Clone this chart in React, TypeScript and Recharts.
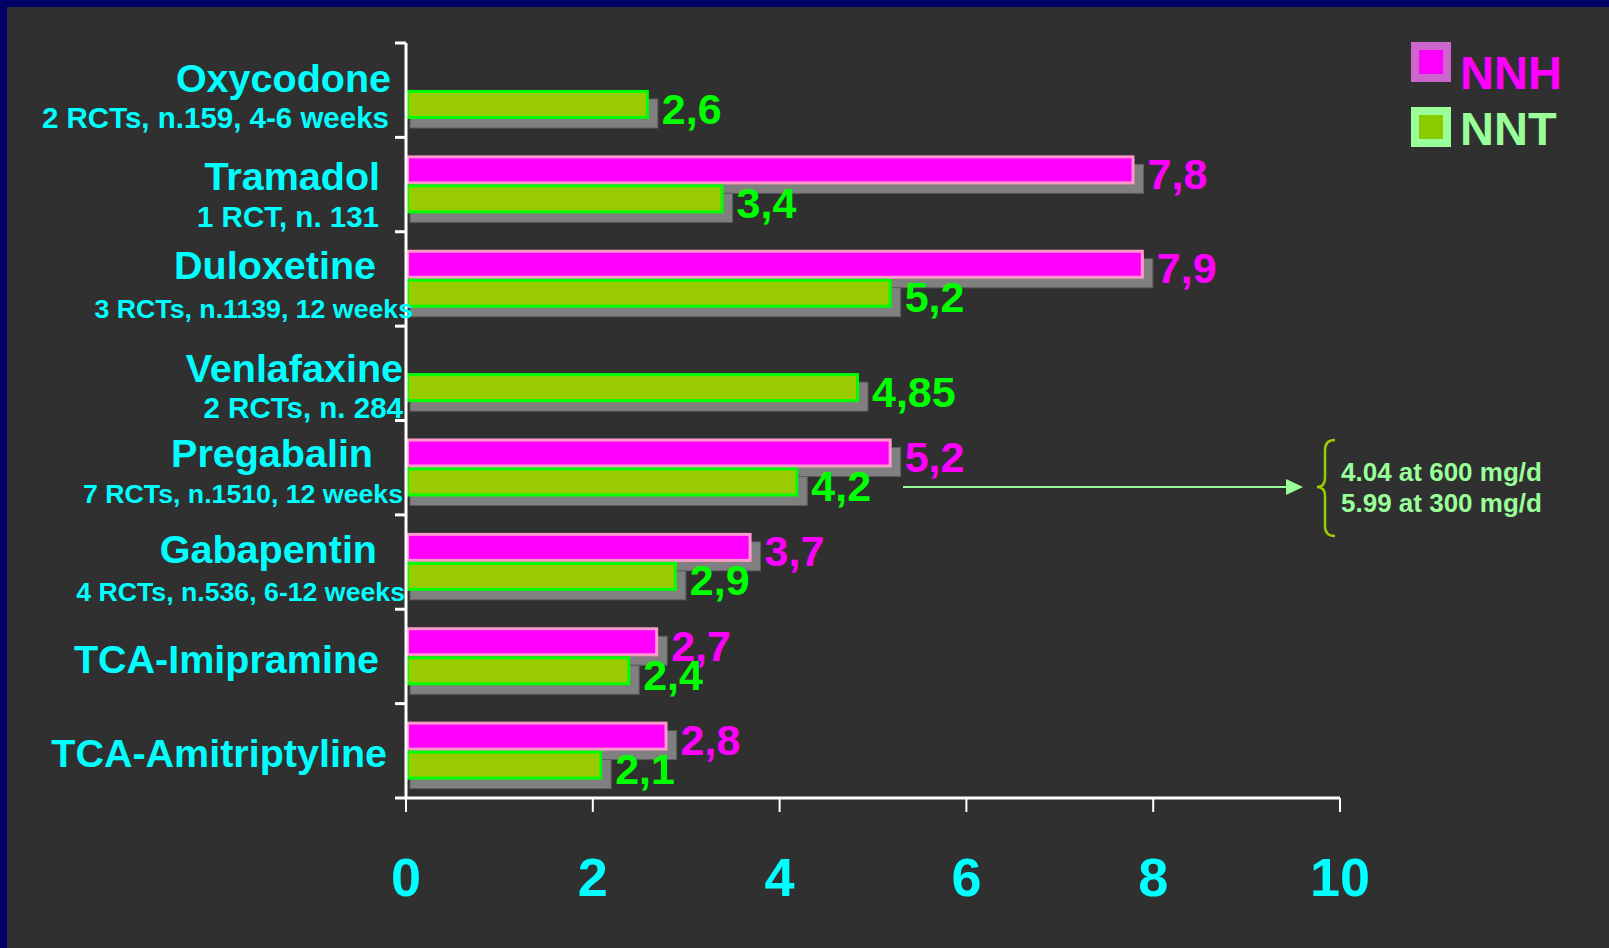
import React from 'react';
import { BarChart, Bar, XAxis, YAxis, Legend, LabelList } from 'recharts';

const drugs = ['Oxycodone', 'Tramadol', 'Duloxetine', 'Venlafaxine', 'Pregabalin', 'Gabapentin', 'TCA-Imipramine', 'TCA-Amitriptyline'];
const trials = ['2 RCTs, n.159, 4-6 weeks', '1 RCT, n. 131', '3 RCTs, n.1139, 12 weeks', '2 RCTs, n. 284', '7 RCTs, n.1510, 12 weeks', '4 RCTs, n.536, 6-12 weeks', '', ''];
const nnh = [null, 7.8, 7.9, null, 5.2, 3.7, 2.7, 2.8];
const nnt = [2.6, 3.4, 5.2, 4.85, 4.2, 2.9, 2.4, 2.1];
const xTicks = [0, 2, 4, 6, 8, 10];
const pregabalinNote = ['4.04 at 600 mg/d', '5.99 at 300 mg/d'];

// the slide's text boxes are placed by hand: [right edge, offset from band centre, font size]
const titlePlace = [[391, 2], [380, 5], [376, 0], [403, 9], [373, -1], [377, 1], [379, 17], [387, 16]];
const subPlace = [[389, 38, 29.5], [379, 42, 29.5], [413, 39, 26.7], [403, 45, 29.5], [403, 35, 26.7], [405, 39, 26.7], [0, 0, 0], [0, 0, 0]];

const W = 1609;
const H = 948;
const PLOT_L = 406;
const PLOT_R = 1340;
const PLOT_T = 43;
const PLOT_B = 798;
const CYAN = '#00ffff';
const MAGENTA = '#ff00ff';
const FONT = '"Liberation Sans", Arial, sans-serif';

const rows = drugs.map((drug, i) => ({ drug, nnh: nnh[i], nnt: nnt[i] }));

const legendItems = [
  { name: 'NNH', edge: '#cc66cc', fill: '#ff00ff', text: '#ff00ff' },
  { name: 'NNT', edge: '#99ff99', fill: '#88cc00', text: '#99ff99' },
];

const YTick = (props: any) => {
  const { y, payload } = props;
  const i = drugs.indexOf(payload.value);
  const band = (PLOT_B - PLOT_T) / drugs.length;
  const [tx, tdy] = titlePlace[i];
  const [sx, sdy, sfs] = subPlace[i];
  return (
    <g>
      <line x1={PLOT_L - 11} x2={PLOT_L} y1={y - band / 2} y2={y - band / 2} stroke="#fff" strokeWidth={3} />
      {i === drugs.length - 1 && (
        <line x1={PLOT_L - 11} x2={PLOT_L} y1={y + band / 2} y2={y + band / 2} stroke="#fff" strokeWidth={3} />
      )}
      <text x={tx} y={y + tdy} textAnchor="end" fill={CYAN} fontSize={39.5} fontWeight="bold" fontFamily={FONT}>
        {payload.value}
      </text>
      {trials[i] && (
        <text x={sx} y={y + sdy} textAnchor="end" fill={CYAN} fontSize={sfs} fontWeight="bold" fontFamily={FONT}>
          {trials[i]}
        </text>
      )}
    </g>
  );
};

const XTick = (props: any) => {
  const { x, payload } = props;
  return (
    <text x={x} y={PLOT_B + 98} textAnchor="middle" fill={CYAN} fontSize={54} fontWeight="bold" fontFamily={FONT}>
      {payload.value}
    </text>
  );
};

// bar with the slide's drop shadow and light edge
const shadowBar = (fill: string, edge: string) => (props: any) => {
  const { x, y, width, height, value } = props;
  if (value == null || !width) return <g />;
  return (
    <g>
      <rect x={x + 4} y={y + 9} width={width + 5} height={height} fill="#808080" stroke="#5c5c5c" strokeWidth={1} />
      <rect x={x + 1.5} y={y + 1.5} width={width - 3} height={height - 3} fill={fill} stroke={edge} strokeWidth={3} />
    </g>
  );
};

const valueLabel = (color: string) => (props: any) => {
  const { value } = props;
  if (value == null) return null;
  const box = props.viewBox ?? props;
  const { x, y, width, height } = box;
  return (
    <text x={x + width + 13} y={y + height / 2 + 19} fill={color} fontSize={43} fontWeight="bold" fontFamily={FONT}>
      {String(value).replace('.', ',')}
    </text>
  );
};

const LegendBox = () => (
  <svg width={190} height={130}>
    {legendItems.map((it, i) => (
      <g key={it.name} transform={`translate(0, ${i * 65})`}>
        <rect x={4} y={4} width={32} height={32} fill={it.fill} stroke={it.edge} strokeWidth={8} />
        <text x={49} y={i === 0 ? 47 : 38} fill={it.text} fontSize={47} fontWeight="bold" fontFamily={FONT}>
          {it.name}
        </text>
      </g>
    ))}
  </svg>
);

export default function App() {
  return (
    <div style={{ position: 'absolute', left: 0, top: 0, width: W, height: H, background: '#000066', overflow: 'hidden' }}>
      <div style={{ position: 'absolute', left: 7, top: 7, width: W - 7, height: H - 7, background: '#303030' }} />
      <div style={{ position: 'absolute', left: 0, top: 0 }}>
        <BarChart
          width={W}
          height={H}
          data={rows}
          layout="vertical"
          margin={{ top: PLOT_T, right: W - PLOT_R, bottom: 0, left: 0 }}
          barSize={29}
          barGap={0}
        >
          <XAxis
            type="number"
            domain={[0, 10]}
            ticks={xTicks}
            height={H - PLOT_B}
            axisLine={{ stroke: '#fff', strokeWidth: 3 }}
            tickLine={{ stroke: '#fff', strokeWidth: 2 }}
            tickSize={14}
            tick={<XTick />}
            interval={0}
          />
          <YAxis
            type="category"
            dataKey="drug"
            width={PLOT_L}
            axisLine={{ stroke: '#fff', strokeWidth: 3 }}
            tickLine={false}
            tick={<YTick />}
            interval={0}
          />
          <Legend
            layout="vertical"
            align="center"
            verticalAlign="middle"
            content={<LegendBox />}
            wrapperStyle={{ left: 1411, top: 42, width: 190, height: 130 }}
          />
          <Bar dataKey="nnh" name="NNH" fill={MAGENTA} shape={shadowBar(MAGENTA, '#ff99cc')} isAnimationActive={false}>
            <LabelList dataKey="nnh" content={valueLabel(MAGENTA)} />
          </Bar>
          <Bar dataKey="nnt" name="NNT" fill="#99cc00" shape={shadowBar('#99cc00', '#00ff00')} isAnimationActive={false}>
            <LabelList dataKey="nnt" content={valueLabel('#00ff00')} />
          </Bar>
        </BarChart>
      </div>
      {/* pregabalin dose note, arrow and brace */}
      <svg width={W} height={H} style={{ position: 'absolute', left: 0, top: 0, pointerEvents: 'none' }}>
        <line x1={903} y1={487} x2={1288} y2={487} stroke="#99ff99" strokeWidth={2} />
        <polygon points="1303,487 1286,479 1286,495" fill="#99ff99" />
        <path
          d="M1335,440 Q1325,440 1325,450 L1325,478 Q1325,487 1317,487 Q1325,487 1325,496 L1325,526 Q1325,536 1335,536"
          fill="none"
          stroke="#99cc00"
          strokeWidth={2.5}
        />
        {pregabalinNote.map((t, i) => (
          <text key={t} x={1341} y={481 + i * 31} fill="#99ff99" fontSize={26} fontWeight="bold" fontFamily={FONT}>
            {t}
          </text>
        ))}
      </svg>
    </div>
  );
}
